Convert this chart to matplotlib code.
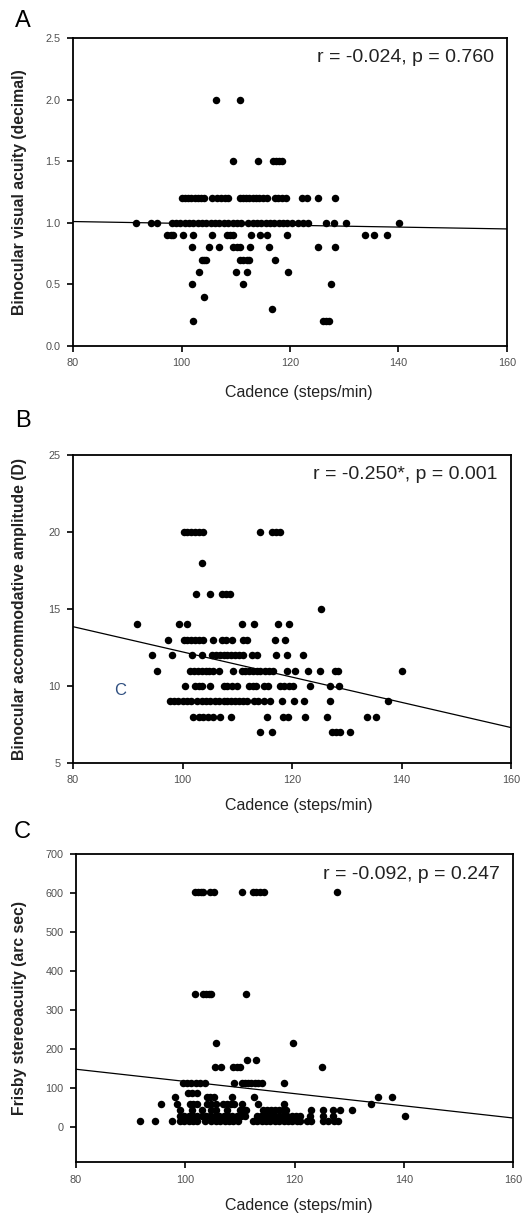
import matplotlib
matplotlib.use("Agg")
import numpy as np
import matplotlib.pyplot as plt

plt.rcParams['font.family'] = ['Liberation Sans', 'DejaVu Sans']

# A: binocular visual acuity, one list of cadences per acuity level
acuity_levels = [2.0, 1.5, 1.2, 1.0, 0.9, 0.8, 0.7, 0.6, 0.5, 0.4, 0.3, 0.2]
acuity_cadence = [
    [106.4, 110.8],
    [109.5, 114.1, 116.9, 117.5, 118.0, 118.5],
    [100.0, 100.6, 101.2, 101.8, 102.4, 103.0, 103.6, 104.2, 105.7, 106.5, 107.2, 108.0, 108.5,
     110.7, 111.3, 111.9, 112.5, 113.1, 113.7, 114.3, 115.0, 115.7, 117.2, 117.8, 118.5, 119.3,
     122.3, 123.2, 125.1, 128.3],
    [91.7, 94.3, 95.5, 98.2, 99.0, 99.8, 100.6, 101.4, 102.2, 103.0, 103.8, 104.6, 105.4, 106.2,
     107.0, 107.8, 108.6, 109.4, 110.2, 111.0, 112.3, 113.1, 113.9, 114.7, 115.5, 116.3, 117.1,
     117.9, 118.7, 119.5, 120.3, 121.5, 122.4, 123.3, 126.6, 128.1, 130.4, 140.1],
    [97.3, 98.0, 98.5, 100.3, 102.2, 105.6, 108.3, 108.9, 109.5, 112.9, 114.5, 115.7, 119.4,
     133.8, 135.4, 137.8],
    [101.9, 105.1, 106.9, 109.4, 110.2, 110.8, 112.6, 116.2, 125.1, 128.3],
    [103.7, 104.2, 104.6, 110.8, 111.4, 112.0, 112.5, 117.2],
    [103.3, 110.0, 112.1, 119.6],
    [101.9, 111.3, 127.6],
    [104.2],
    [116.7],
    [102.1, 126.1, 126.6, 127.1],
]

# B: binocular accommodative amplitude (D)
amp_levels = [20, 18, 16, 15, 14, 13, 12, 11, 10, 9, 8, 7]
amp_cadence = [
    [100.2, 100.8, 101.5, 102.2, 103.0, 103.8, 114.2, 116.3, 117.0, 117.8],
    [103.5],
    [102.4, 105.0, 107.2, 108.0, 108.7],
    [125.3],
    [91.6, 99.3, 100.8, 110.8, 113.1, 117.4, 119.5],
    [97.4, 100.2, 100.9, 101.6, 102.3, 103.0, 103.8, 105.6, 107.2, 108.0, 109.0, 111.1, 111.8,
     116.9, 118.8],
    [94.5, 98.0, 101.7, 103.5, 105.4, 106.1, 106.8, 107.5, 108.2, 108.9, 109.6, 110.3, 111.1,
     112.7, 113.6, 117.1, 119.1, 122.0],
    [95.3, 101.4, 102.1, 102.8, 103.5, 104.2, 104.9, 105.6, 106.6, 109.3, 110.8, 111.5, 112.2,
     112.9, 113.6, 114.2, 115.1, 115.8, 116.6, 119.1, 120.6, 123.0, 125.2, 127.9, 128.4, 140.0],
    [100.5, 102.3, 103.0, 103.6, 105.0, 107.5, 108.2, 109.0, 109.9, 112.1, 112.8, 113.5, 114.8,
     115.7, 117.8, 118.6, 119.4, 120.2, 123.3, 127.0, 128.5],
    [97.7, 98.4, 99.2, 100.0, 100.8, 101.6, 102.6, 103.5, 104.3, 105.1, 105.9, 106.6, 107.5,
     108.2, 108.9, 109.6, 110.3, 111.0, 111.7, 113.0, 113.8, 114.8, 116.0, 118.2, 120.3, 122.2,
     127.0, 137.6],
    [101.9, 103.1, 103.8, 104.6, 105.5, 106.9, 108.9, 115.5, 118.3, 119.2, 122.4, 126.4,
     133.7, 135.4],
    [114.2, 116.3, 127.3, 128.0, 128.8, 130.6],
]

# C: Frisby stereoacuity (arc sec)
frisby_levels = [602, 342, 216, 172, 153, 112, 86, 76, 60, 44, 29, 14]
frisby_cadence = [
    [101.8, 102.3, 102.8, 103.3, 104.6, 105.2, 110.3, 112.4, 113.0, 113.7, 114.4, 127.7],
    [101.8, 103.3, 103.8, 104.3, 104.8, 111.2],
    [105.6, 119.8],
    [111.3, 112.9],
    [105.5, 106.6, 108.8, 109.4, 110.0, 125.1],
    [99.5, 100.3, 101.1, 101.9, 102.7, 103.6, 108.9, 110.3, 110.9, 111.5, 112.1, 112.7, 113.3,
     114.0, 118.1],
    [100.5, 101.3, 102.1],
    [98.1, 103.9, 104.6, 105.2, 108.5, 112.6, 135.3, 137.9],
    [95.5, 98.4, 100.9, 101.5, 102.1, 103.9, 104.8, 105.7, 106.9, 107.6, 108.3, 109.0, 110.3,
     113.4, 118.1, 134.0],
    [99.0, 101.2, 103.0, 104.8, 105.7, 107.6, 110.0, 110.6, 111.2, 114.3, 115.0, 115.7, 116.4,
     117.1, 117.8, 118.5, 123.1, 125.2, 127.0, 128.4, 130.5],
    [99.0, 99.8, 100.6, 101.4, 102.2, 103.0, 103.8, 104.6, 105.4, 106.2, 107.0, 107.8, 108.6,
     109.4, 110.2, 111.0, 113.1, 113.9, 114.7, 115.5, 116.3, 117.1, 117.9, 118.7, 119.5, 120.3,
     121.0, 122.8, 125.2, 127.0, 140.2],
    [91.8, 94.5, 97.6, 99.0, 99.8, 100.6, 101.4, 102.2, 103.6, 104.8, 105.6, 106.4, 107.2, 108.0,
     108.8, 109.6, 112.4, 113.2, 114.0, 114.8, 115.6, 116.4, 117.2, 118.0, 118.8, 119.6, 120.4,
     121.0, 122.2, 123.0, 125.2, 126.2, 127.2, 128.0],
]

# regression lines (value at cadence 80 and 160)
fit_x = [80, 160]
fit_a = [1.01, 0.95]
fit_b = [13.85, 7.3]
fit_c = [148, 23]

panels = [
    dict(letter="A", levels=acuity_levels, cad=acuity_cadence, fit=fit_a,
         ylabel="Binocular visual acuity (decimal)", ylim=(0, 2.5),
         yticks=[0.0, 0.5, 1.0, 1.5, 2.0, 2.5], yfmt="{:.1f}",
         stat="r = -0.024, p = 0.760",
         rect=[0.1396, 0.7164, 0.8298, 0.2525], letter_y=0.983, xlab_y=0.678),
    dict(letter="B", levels=amp_levels, cad=amp_cadence, fit=fit_b,
         ylabel="Binocular accommodative amplitude (D)", ylim=(5, 25),
         yticks=[5, 10, 15, 20, 25], yfmt="{:d}",
         stat="r = -0.250*, p = 0.001",
         rect=[0.1396, 0.3746, 0.8375, 0.2525], letter_y=0.655, xlab_y=0.340),
    dict(letter="C", levels=frisby_levels, cad=frisby_cadence, fit=fit_c,
         ylabel="Frisby stereoacuity (arc sec)", ylim=(-90, 700),
         yticks=[0, 100, 200, 300, 400, 500, 600, 700], yfmt="{:d}",
         stat="r = -0.092, p = 0.247",
         rect=[0.1453, 0.0475, 0.8357, 0.2525], letter_y=0.318, xlab_y=0.012),
]

fig = plt.figure(figsize=(5.23, 12.2), dpi=100)

for p in panels:
    ax = fig.add_axes(p["rect"])
    xs, ys = [], []
    for lev, row in zip(p["levels"], p["cad"]):
        xs += row
        ys += [lev] * len(row)
    ax.plot(xs, ys, "o", color="black", markersize=5.4, markeredgewidth=0)
    ax.plot(fit_x, p["fit"], color="black", linewidth=0.9)

    ax.set_xlim(80, 160)
    ax.set_ylim(*p["ylim"])
    ax.set_xticks([80, 100, 120, 140, 160])
    ax.set_yticks(p["yticks"])
    ax.set_yticklabels([p["yfmt"].format(v) for v in p["yticks"]])
    ax.tick_params(direction="out", length=4, width=1.2, labelsize=7.8,
                   labelcolor="#505050", pad=5)
    for s in ax.spines.values():
        s.set_linewidth(1.3)

    ax.text(0.97, 0.935, p["stat"], transform=ax.transAxes, ha="right", va="center",
            fontsize=14, color="#222222")

    b = p["rect"]
    fig.text(0.037, b[1] + b[3] / 2, p["ylabel"], rotation=90, fontsize=11.3,
             fontweight="bold", color="#222222", ha="center", va="center")
    fig.text(0.043, p["letter_y"], p["letter"], fontsize=17, ha="center", va="center")
    fig.text(0.572, p["xlab_y"], "Cadence (steps/min)", fontsize=11.5, ha="center",
             va="center", color="#222222")
    if p["letter"] == "B":
        ax.text(88.6, 9.7, "C", fontsize=12, color="#2f4f80", ha="center", va="center")

fig.savefig("out.png", dpi=100)
